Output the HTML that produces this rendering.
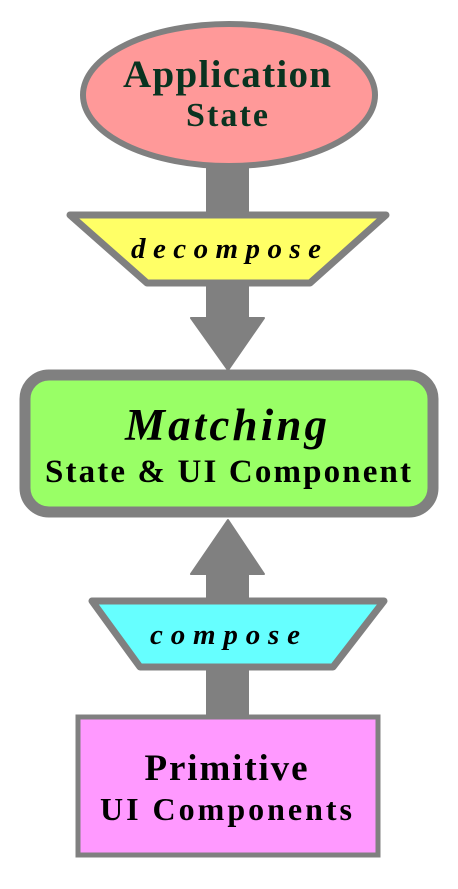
<!DOCTYPE html>
<html><head><style>
html,body{margin:0;padding:0;background:#fff;}
text{font-family:"Liberation Serif","Times New Roman",serif;font-weight:bold;}
</style></head><body>
<svg width="458" height="884" viewBox="0 0 458 884" xmlns="http://www.w3.org/2000/svg">
<g fill="#808080" stroke="#808080" stroke-linejoin="round" stroke-width="2">
<rect x="207" y="160" width="41" height="160"/>
<polygon points="191,318 264,318 228,370"/>
<rect x="207" y="570" width="41" height="150"/>
<polygon points="191,574 264,574 228,520"/>
</g>
<g text-anchor="middle" fill="#000">
<ellipse cx="229" cy="95" rx="146" ry="71" fill="#ff9999" stroke="#808080" stroke-width="6"/>
<text x="227" y="87" font-size="39" fill="#0a3320" textLength="208" lengthAdjust="spacing">Application</text>
<text x="227" y="126" font-size="34" fill="#0a3320" textLength="82" lengthAdjust="spacing">State</text>
<polygon points="70,215 386,215 310,283 147,283" fill="#ffff66" stroke="#808080" stroke-width="7" stroke-linejoin="round"/>
<text x="226" y="258" font-size="29" font-style="italic" textLength="190" lengthAdjust="spacing">decompose</text>
<rect x="25" y="375" width="408" height="137" rx="24" fill="#99ff66" stroke="#808080" stroke-width="11"/>
<text x="226" y="440" font-size="45" font-style="italic" textLength="202" lengthAdjust="spacing">Matching</text>
<text x="228" y="482" font-size="33" textLength="366" lengthAdjust="spacing">State &amp; UI Component</text>
<polygon points="92,601 384,601 333,667 140,667" fill="#66ffff" stroke="#808080" stroke-width="7" stroke-linejoin="round"/>
<text x="225" y="644" font-size="29" font-style="italic" textLength="150" lengthAdjust="spacing">compose</text>
<rect x="78" y="717" width="300" height="138" fill="#ff99ff" stroke="#808080" stroke-width="5"/>
<text x="226" y="780" font-size="37" textLength="163" lengthAdjust="spacing">Primitive</text>
<text x="226" y="820" font-size="32" textLength="252" lengthAdjust="spacing">UI Components</text>
</g>
</svg>
</body></html>
